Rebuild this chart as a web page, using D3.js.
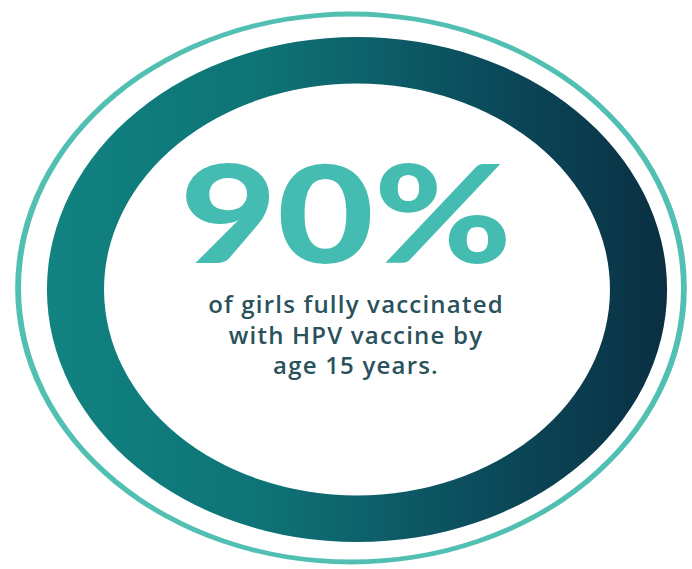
<!DOCTYPE html>
<html>
<head>
<meta charset="utf-8">
<script src="https://cdn.jsdelivr.net/npm/d3@7/dist/d3.min.js"></script>
<style>
  html, body { margin: 0; padding: 0; background: #ffffff; }
  svg { display: block; }
</style>
</head>
<body>
<div id="chart"></div>
<script>
// Headline statistic and its caption
const statValue = [90];
const statUnit = ["%"];
const captionLines = [
  "of girls fully vaccinated",
  "with HPV vaccine by",
  "age 15 years."
];
// Ring gradient stops (offset, colour)
const gradientStops = [
  [0, "#118381"],
  [0.35, "#0e7376"],
  [0.7, "#0b4c5c"],
  [1, "#0a2f43"]
];

const width = 692, height = 569;

const svg = d3.select("#chart").append("svg")
  .attr("width", width)
  .attr("height", height);

const defs = svg.append("defs");
const grad = defs.append("linearGradient")
  .attr("id", "ringGrad")
  .attr("x1", "0").attr("y1", "0")
  .attr("x2", "1").attr("y2", "0");
grad.selectAll("stop").data(gradientStops).join("stop")
  .attr("offset", d => d[0])
  .attr("stop-color", d => d[1]);

// Full-turn angle scale for the ring
const angle = d3.scaleLinear().domain([0, 100]).range([0, 2 * Math.PI]);

// Thin outer ring
const outerRing = svg.append("g")
  .attr("transform", "translate(351,288) scale(1.215,1)");
outerRing.append("path")
  .attr("d", d3.arc()
    .innerRadius(271.6)
    .outerRadius(276.4)
    .startAngle(angle(0))
    .endAngle(angle(100))())
  .attr("fill", "#52bfb3");

// Thick gradient ring
const mainRing = svg.append("g")
  .attr("transform", "translate(357,289.5) scale(1.228,1)");
mainRing.append("path")
  .attr("d", d3.arc()
    .innerRadius(206)
    .outerRadius(252.5)
    .startAngle(angle(0))
    .endAngle(angle(100))())
  .attr("fill", "url(#ringGrad)");

// Big percentage
const big = svg.append("text")
  .attr("x", 346)
  .attr("y", 263)
  .attr("text-anchor", "middle")
  .attr("font-family", "Lato, 'DejaVu Sans', sans-serif")
  .attr("font-weight", 900)
  .attr("font-size", 136)
  .attr("fill", "#45bcb1")
  .text(statValue[0] + statUnit[0]);
big.attr("textLength", 332).attr("lengthAdjust", "spacingAndGlyphs");

// Caption
svg.append("g").selectAll("text").data(captionLines).join("text")
  .attr("x", 356)
  .attr("y", (d, i) => 313 + i * 30.5)
  .attr("text-anchor", "middle")
  .attr("font-family", "'Open Sans', 'DejaVu Sans', sans-serif")
  .attr("font-weight", 600)
  .attr("font-size", 24)
  .attr("letter-spacing", 1.2)
  .attr("fill", "#2a525c")
  .text(d => d);
</script>
</body>
</html>
